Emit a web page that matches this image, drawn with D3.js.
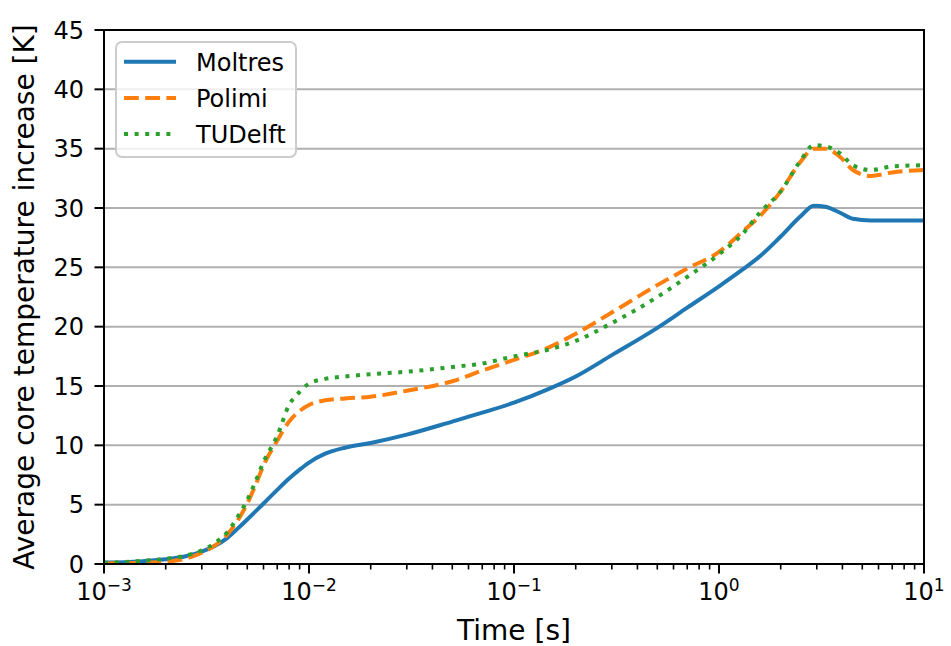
<!DOCTYPE html>
<html>
<head>
<meta charset="utf-8">
<script src="https://cdn.jsdelivr.net/npm/d3@7"></script>
<style>
  html, body { margin: 0; padding: 0; background: #fff; }
  svg { display: block; font-family: "DejaVu Sans", sans-serif; }
</style>
</head>
<body>
<svg id="chart" width="951" height="646"></svg>
<script>
// ---- Data ----
const times = [0.001, 0.0015, 0.002, 0.0025, 0.003, 0.0035, 0.004, 0.0045, 0.005, 0.0055,
  0.006, 0.007, 0.008, 0.009, 0.01, 0.012, 0.015, 0.02, 0.03, 0.05, 0.07, 0.1, 0.15, 0.2,
  0.3, 0.5, 0.7, 1.0, 1.3, 1.6, 2.0, 2.5, 2.9, 3.3, 3.9, 4.5, 5.5, 7.0, 10];

const moltres = [0.12, 0.22, 0.4, 0.65, 1.05, 1.55, 2.2, 3.0, 3.75, 4.45,
  5.1, 6.25, 7.2, 7.95, 8.55, 9.3, 9.8, 10.2, 10.9, 12.0, 12.75, 13.6, 14.8, 15.8,
  17.6, 19.9, 21.6, 23.4, 24.8, 26.0, 27.6, 29.3, 30.2, 30.1, 29.6, 29.1, 28.95, 28.95, 28.95];

const polimi = [0.05, 0.1, 0.2, 0.45, 0.95, 1.6, 2.5, 3.7, 5.1, 6.7,
  8.3, 10.4, 12.0, 12.9, 13.4, 13.8, 13.95, 14.1, 14.6, 15.4, 16.3, 17.2, 18.3, 19.4,
  21.2, 23.5, 24.9, 26.3, 28.0, 29.4, 31.4, 33.9, 35.0, 35.0, 34.3, 33.2, 32.7, 33.0, 33.2];

const tudelft = [0.1, 0.25, 0.45, 0.7, 1.15, 1.8, 2.7, 4.0, 5.4, 7.0,
  8.6, 10.8, 13.4, 14.5, 15.2, 15.6, 15.8, 16.0, 16.2, 16.6, 16.9, 17.5, 18.1, 18.8,
  20.3, 22.5, 24.2, 26.1, 27.8, 29.7, 31.4, 34.0, 35.3, 35.2, 34.6, 33.6, 33.2, 33.5, 33.6];

const seriesNames = ["Moltres", "Polimi", "TUDelft"];
const yTicks = [0, 5, 10, 15, 20, 25, 30, 35, 40, 45];
const xTickExps = [-3, -2, -1, 0, 1];
const xLabel = "Time [s]";
const yLabel = "Average core temperature increase [K]";

// ---- Layout ----
const svg = d3.select("#chart");
const L = 104, R = 924, T = 30, B = 564;
const x = d3.scaleLog().domain([1e-3, 10]).range([L, R]);
const y = d3.scaleLinear().domain([0, 45]).range([B, T]);

const colors = ["#1f77b4", "#ff7f0e", "#2ca02c"];
const dashes = [null, "14.8,6.4", "4,6.6"];
const lw = 4;

// grid
svg.append("g").selectAll("line").data(yTicks).join("line")
  .attr("x1", L).attr("x2", R)
  .attr("y1", d => y(d)).attr("y2", d => y(d))
  .attr("stroke", "#b0b0b0").attr("stroke-width", 2);

// lines
const data = [moltres, polimi, tudelft];
const line = d3.line().x((d, i) => x(times[i])).y(d => y(d)).curve(d3.curveMonotoneX);
svg.append("clipPath").attr("id", "clip").append("rect")
  .attr("x", L).attr("y", T).attr("width", R - L).attr("height", B - T);
data.forEach((vals, k) => {
  svg.append("path").attr("d", line(vals))
    .attr("fill", "none").attr("stroke", colors[k]).attr("stroke-width", lw)
    .attr("stroke-dasharray", dashes[k]).attr("clip-path", "url(#clip)")
    .attr("stroke-linejoin", "round");
});

// spines
svg.append("rect").attr("x", L).attr("y", T).attr("width", R - L).attr("height", B - T)
  .attr("fill", "none").attr("stroke", "#000").attr("stroke-width", 2);

// y ticks
const yg = svg.append("g");
yTicks.forEach(v => {
  yg.append("line").attr("x1", L - 9.5).attr("x2", L).attr("y1", y(v)).attr("y2", y(v))
    .attr("stroke", "#000").attr("stroke-width", 2);
  yg.append("text").attr("x", L - 20).attr("y", y(v)).attr("dy", "0.36em")
    .attr("text-anchor", "end").attr("font-size", 24).attr("fill", "#000").text(v);
});

// x ticks (major + minor)
const xg = svg.append("g");
xTickExps.forEach(e => {
  const t = Math.pow(10, e);
  xg.append("line").attr("x1", x(t)).attr("x2", x(t)).attr("y1", B).attr("y2", B + 9.5)
    .attr("stroke", "#000").attr("stroke-width", 2);
  const tx = xg.append("text").attr("x", x(t)).attr("y", 600)
    .attr("text-anchor", "middle").attr("font-size", 24).attr("fill", "#000");
  tx.append("tspan").text("10");
  tx.append("tspan").attr("dy", -9).attr("font-size", 17).text(e < 0 ? "\u2212" + (-e) : String(e));
  if (e < 1) {
    for (let m = 2; m <= 9; m++) {
      const tm = m * t;
      xg.append("line").attr("x1", x(tm)).attr("x2", x(tm)).attr("y1", B).attr("y2", B + 5.5)
        .attr("stroke", "#000").attr("stroke-width", 1.6);
    }
  }
});

// axis labels
svg.append("text").attr("x", (L + R) / 2).attr("y", 640).attr("text-anchor", "middle")
  .attr("font-size", 28).attr("fill", "#000").text(xLabel);
svg.append("text").attr("transform", `translate(34,${(T + B) / 2}) rotate(-90)`)
  .attr("text-anchor", "middle").attr("font-size", 28).attr("fill", "#000").text(yLabel);

// legend
const lg = svg.append("g");
lg.append("rect").attr("x", 116).attr("y", 42).attr("width", 180).attr("height", 115)
  .attr("rx", 6).attr("fill", "#fff").attr("fill-opacity", 0.8)
  .attr("stroke", "#cccccc").attr("stroke-width", 2);
seriesNames.forEach((name, k) => {
  const ly = 61.7 + k * 36.2;
  lg.append("line").attr("x1", 124).attr("x2", 176).attr("y1", ly).attr("y2", ly)
    .attr("stroke", colors[k]).attr("stroke-width", lw).attr("stroke-dasharray", dashes[k]);
  lg.append("text").attr("x", 196).attr("y", ly + 9).attr("font-size", 24)
    .attr("fill", "#000").text(name);
});
</script>
</body>
</html>
